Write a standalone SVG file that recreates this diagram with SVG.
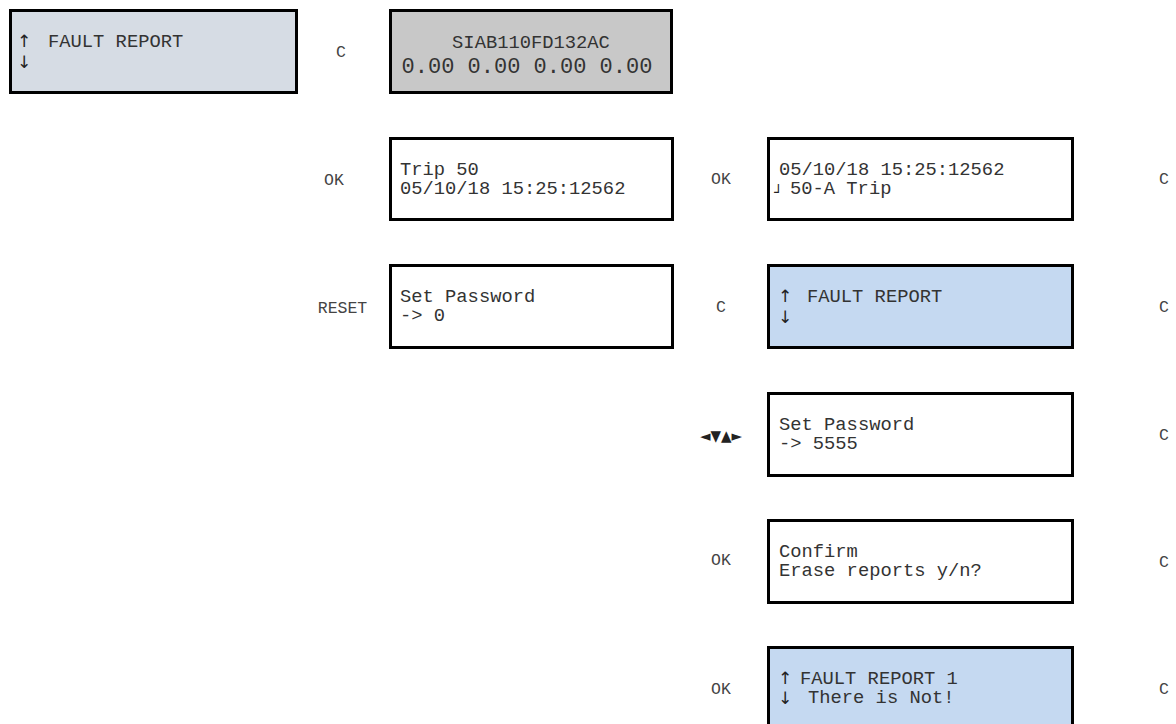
<svg xmlns="http://www.w3.org/2000/svg" width="1176" height="724" viewBox="0 0 1176 724">
<style>
.box{stroke:#000;stroke-width:3}
.w{fill:#fff}
.g{fill:#c8c8c8}
.gb{fill:#d6dce4}
.b{fill:#c5d9f1}
.t{font-family:"Liberation Mono","Courier New",monospace;font-size:18.8px;fill:#333}
.a{font-family:"DejaVu Sans",sans-serif;font-size:17px;fill:#222}
.lbl{font-family:"Liberation Mono","Courier New",monospace;font-size:16.5px;fill:#444;text-anchor:middle}
.cr{font-family:"DejaVu Sans Mono",monospace;font-size:14px;fill:#222}
.tri{font-family:"DejaVu Sans",sans-serif;font-size:15px;fill:#222}
</style>
<rect width="1176" height="724" fill="#fff"/>
<g id="connectors"/>
<g id="n-fault-left">
<rect class="box gb" x="10.5" y="10.5" width="286" height="82"/>
<text class="a" x="17" y="47">↑</text>
<text class="a" x="17" y="68">↓</text>
<text class="t" x="48" y="47">FAULT REPORT</text>
</g>
<g id="n-siab">
<rect class="box g" x="390.5" y="10.5" width="281" height="82"/>
<text class="t" x="531" y="47.5" text-anchor="middle">SIAB110FD132AC</text>
<text class="t" x="527" y="73" text-anchor="middle" style="font-size:22px">0.00 0.00 0.00 0.00</text>
</g>
<g id="n-trip">
<rect class="box w" x="390.5" y="138.5" width="282" height="81"/>
<text class="t" x="400" y="174.5">Trip 50</text>
<text class="t" x="400" y="194">05/10/18 15:25:12562</text>
</g>
<g id="n-setpw0">
<rect class="box w" x="390.5" y="265.5" width="282" height="82"/>
<text class="t" x="400" y="301.5">Set Password</text>
<text class="t" x="400" y="321">-&gt; 0</text>
</g>
<g id="n-detail">
<rect class="box w" x="768.5" y="138.5" width="304" height="81"/>
<text class="t" x="779" y="174.5">05/10/18 15:25:12562</text>
<text class="cr" x="774" y="196.5">┘</text>
<text class="t" x="790" y="194">50-A Trip</text>
</g>
<g id="n-fault-right">
<rect class="box b" x="768.5" y="265.5" width="304" height="82"/>
<text class="a" x="778" y="302">↑</text>
<text class="a" x="778" y="323">↓</text>
<text class="t" x="807" y="302">FAULT REPORT</text>
</g>
<g id="n-setpw5555">
<rect class="box w" x="768.5" y="393.5" width="304" height="82"/>
<text class="t" x="779" y="429.5">Set Password</text>
<text class="t" x="779" y="449">-&gt; 5555</text>
</g>
<g id="n-confirm">
<rect class="box w" x="768.5" y="520.5" width="304" height="82"/>
<text class="t" x="779" y="556.5">Confirm</text>
<text class="t" x="779" y="576">Erase reports y/n?</text>
</g>
<g id="n-fault1">
<rect class="box b" x="768.5" y="647.5" width="304" height="82"/>
<text class="a" x="778" y="683.5">↑</text>
<text class="a" x="778" y="704">↓</text>
<text class="t" x="800" y="683.5">FAULT REPORT 1</text>
<text class="t" x="808" y="703">There is Not!</text>
</g>
<g id="labels">
<text class="lbl" x="341" y="57">C</text>
<text class="lbl" x="334" y="184.5">OK</text>
<text class="lbl" x="342.5" y="313">RESET</text>
<text class="lbl" x="721" y="184">OK</text>
<text class="lbl" x="721" y="312">C</text>
<text class="tri" x="700" y="441" textLength="42" lengthAdjust="spacingAndGlyphs">◄▼▲►</text>
<text class="lbl" x="721" y="565">OK</text>
<text class="lbl" x="721" y="694">OK</text>
<text class="lbl" x="1164" y="184">C</text>
<text class="lbl" x="1164" y="312">C</text>
<text class="lbl" x="1164" y="440">C</text>
<text class="lbl" x="1164" y="567">C</text>
<text class="lbl" x="1164" y="694">C</text>
</g>
</svg>
